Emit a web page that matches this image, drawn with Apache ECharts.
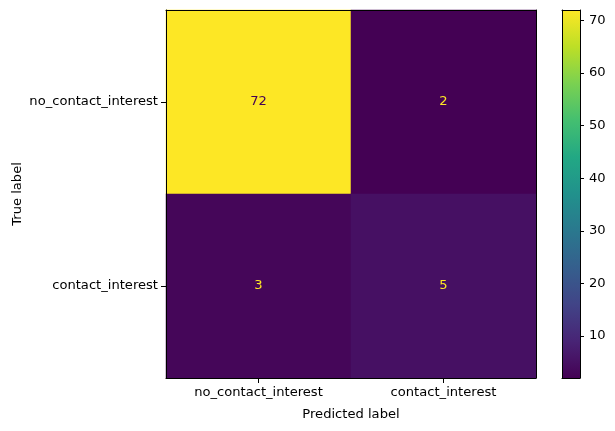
<!DOCTYPE html>
<html>
<head>
<meta charset="utf-8">
<script src="https://cdn.jsdelivr.net/npm/echarts@6/dist/echarts.min.js"></script>
<style>
  html, body { margin: 0; padding: 0; background: #fff; }
  #main { width: 615px; height: 431px; }
</style>
</head>
<body>
<div id="main"></div>
<script>
// confusion matrix: rows = true label, cols = predicted label
const labels = ['no_contact_interest', 'contact_interest'];
const matrix = [
  [72, 2],
  [3, 5]
];
const colorbarTicks = [10, 20, 30, 40, 50, 60, 70];
// viridis colour stops
const viridis = ['#440154', '#471365', '#482475', '#414487', '#355f8d', '#2a788e',
  '#21918c', '#22a884', '#44bf70', '#7ad151', '#bddf26', '#fde725'];
const viridisOffsets = [0, 0.05, 0.1, 0.2, 0.3, 0.4, 0.5, 0.6, 0.7, 0.8, 0.9, 1];

const chartDom = document.getElementById('main');
const myChart = echarts.init(chartDom);

const flat = matrix.flat();
const vMin = Math.min(...flat);
const vMax = Math.max(...flat);
const thresh = (vMin + vMax) / 2;

const cells = [];
matrix.forEach((row, r) => {
  row.forEach((v, c) => {
    cells.push({
      value: [c, r, v],
      label: { color: v > thresh ? viridis[0] : viridis[viridis.length - 1] }
    });
  });
});

// visualMap colours built from the viridis stops
const inRangeColors = [];
for (let i = 0; i <= 100; i++) {
  const t = i / 100;
  let k = 0;
  while (k < viridisOffsets.length - 2 && t > viridisOffsets[k + 1]) k++;
  const f = (t - viridisOffsets[k]) / (viridisOffsets[k + 1] - viridisOffsets[k]);
  inRangeColors.push(echarts.color.lerp(f, [viridis[k], viridis[k + 1]]));
}

const font = 'DejaVu Sans';
const axisTxt = { color: '#000', fontFamily: font, fontSize: 13.1 };
const blackLine = { show: true, lineStyle: { color: '#000', width: 1 } };

// plain frame axis (line only), drawn above the cells
function frame(type, gridIndex, pos, extra) {
  return Object.assign({
    type: type, gridIndex: gridIndex, position: pos, z: 10,
    axisLine: blackLine, axisTick: { show: false }, axisLabel: { show: false },
    splitLine: { show: false }
  }, extra);
}

const option = {
  animation: false,
  backgroundColor: '#fff',
  textStyle: { fontFamily: font },
  grid: [
    { left: 166, top: 10, width: 370, height: 368, containLabel: false, outerBoundsMode: 'none' },
    { left: 562, top: 10, width: 18, height: 368, containLabel: false, outerBoundsMode: 'none' }
  ],
  xAxis: [
    {
      type: 'category', gridIndex: 0, data: labels, position: 'bottom', z: 10,
      axisLine: blackLine,
      axisTick: { show: true, alignWithLabel: true, length: 5, lineStyle: { color: '#000' } },
      axisLabel: Object.assign({ margin: 8 }, axisTxt),
      splitLine: { show: false },
      name: 'Predicted label', nameLocation: 'middle', nameGap: 30, nameMoveOverlap: false,
      nameTextStyle: axisTxt
    },
    frame('category', 0, 'top', { data: labels }),
    frame('category', 1, 'bottom', { data: ['cb'] }),
    frame('category', 1, 'top', { data: ['cb'] })
  ],
  yAxis: [
    {
      type: 'category', gridIndex: 0, data: labels, inverse: true, position: 'left', z: 10,
      axisLine: blackLine,
      axisTick: { show: true, alignWithLabel: true, length: 5, lineStyle: { color: '#000' } },
      axisLabel: Object.assign({ margin: 8 }, axisTxt),
      splitLine: { show: false },
      name: 'True label', nameLocation: 'middle', nameGap: 142, nameRotate: 90, nameMoveOverlap: false,
      nameTextStyle: axisTxt
    },
    frame('category', 0, 'right', { data: labels, inverse: true }),
    {
      type: 'value', gridIndex: 1, min: vMin, max: vMax, position: 'right', z: 10,
      axisLine: blackLine,
      axisTick: { show: true, length: 4, customValues: colorbarTicks, lineStyle: { color: '#000' } },
      axisLabel: Object.assign({ margin: 9, customValues: colorbarTicks }, axisTxt),
      splitLine: { show: false }
    },
    frame('value', 1, 'left', { min: vMin, max: vMax })
  ],
  visualMap: {
    show: false, type: 'continuous', seriesIndex: 0, dimension: 2,
    min: vMin, max: vMax, inRange: { color: inRangeColors }
  },
  series: [
    {
      type: 'heatmap', xAxisIndex: 0, yAxisIndex: 0,
      data: cells,
      label: { show: true, fontFamily: font, fontSize: 13.1 },
      emphasis: { disabled: true }
    },
    {
      type: 'custom', xAxisIndex: 2, yAxisIndex: 2,
      data: [[0, vMin, vMax]],
      renderItem: function (params, api) {
        const cs = params.coordSys;
        const top = api.coord([0, api.value(2)]);
        const bot = api.coord([0, api.value(1)]);
        const stops = viridisOffsets.map((o, i) => ({ offset: 1 - o, color: viridis[i] }));
        return {
          type: 'rect',
          shape: { x: cs.x, y: top[1], width: cs.width, height: bot[1] - top[1] },
          style: { fill: new echarts.graphic.LinearGradient(0, 0, 0, 1, stops) }
        };
      },
      silent: true
    }
  ]
};

option && myChart.setOption(option);
</script>
</body>
</html>
